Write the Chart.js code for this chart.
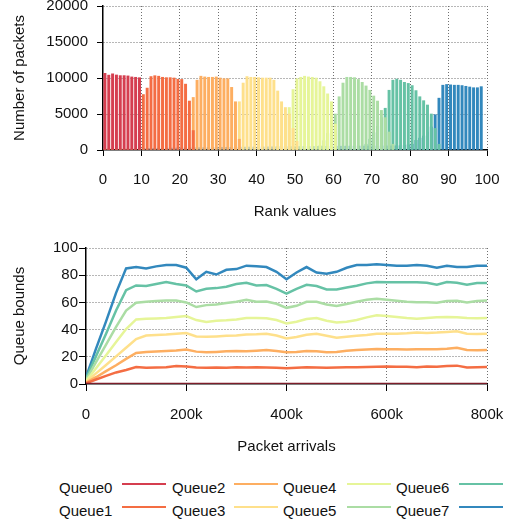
<!DOCTYPE html>
<html>
<head>
<meta charset="utf-8">
<script src="https://cdn.jsdelivr.net/npm/chart.js@4.4.1/dist/chart.umd.min.js"></script>
<style>
  html, body { margin: 0; padding: 0; background: #fff; }
  body { width: 511px; height: 519px; position: relative; overflow: hidden; font-family: "Liberation Sans", Arial, sans-serif; }
  canvas { position: absolute; left: 0; }
  #bars { top: 0; }
  #bounds { top: 230px; }
  .lbl { position: absolute; font-size: 15px; line-height: 15px; color: #111; white-space: nowrap; }
  .swatch { position: absolute; width: 44px; height: 2px; }
</style>
</head>
<body>
<canvas id="bars" width="511" height="230"></canvas>
<canvas id="bounds" width="511" height="230"></canvas>
<div id="legend"></div>
<script>
// queues
const queueNames = ['Queue0', 'Queue1', 'Queue2', 'Queue3', 'Queue4', 'Queue5', 'Queue6', 'Queue7'];
const queueColors = ['#d53e4f', '#f46d43', '#fdae61', '#fee08b', '#e6f598', '#abdda4', '#66c2a5', '#3288bd'];

// packets per rank value, each queue listed from its first rank
const q0Start = 0;
const q0Packets = [10650, 10400, 10580, 10420, 10330, 10330, 10290, 10150, 10100, 10040];
const q1Start = 10;
const q1Packets = [7700, 8600, 10200, 10320, 10250, 10100, 10050, 10050, 10000, 9820, 9800, 9150, 6800, 2700];
const q2Start = 0;
const q2Packets = [150, 170, 160, 150, 180, 160, 150, 170, 160, 150,
  0, 0, 0, 0, 0, 0, 0, 0, 0, 0, 0, 0, 0,
  7300, 9700, 10250, 10150, 10100, 10100, 10150, 10000, 9900, 9900, 8700, 6700, 1500];
const q3Start = 34;
const q3Packets = [3400, 6700, 9300, 10200, 10100, 10100, 10050, 10000, 10000, 10000, 9700, 8200, 6700, 5900, 5000, 3000, 1200];
const q4Start = 45;
const q4Packets = [500, 2000, 4900, 5900, 8400, 9900, 10100, 10250, 10150, 10100, 10000, 9500, 8800, 7800, 6700, 3600];
const q5Start = 56;
const q5Packets = [600, 1300, 2300, 3500, 5000, 7400, 9300, 10100, 10100, 10050, 9800, 9400, 8900, 8300, 7500, 6800, 5500, 4500, 2500, 800];
const q6Start = 68;
const q6Packets = [800, 1500, 2400, 3300, 4500, 5800, 8300, 9700, 9850, 9700, 9400, 9250, 8950, 8250, 7400, 6850, 6250, 5000, 3000, 800];
const q7Start = 0;
const q7Packets = [0, 0, 0, 0, 0, 0, 0, 0, 0, 0,
  200, 220, 230, 240, 250, 250, 260, 270, 270, 280,
  290, 300, 300, 310, 320, 330, 330, 340, 350, 350,
  360, 370, 380, 380, 390, 400, 400, 410, 410, 420,
  420, 430, 430, 440, 440, 450, 450, 460, 460, 470,
  470, 480, 480, 490, 490, 500, 500, 510, 510, 520,
  520, 530, 530, 540, 540, 540, 550, 550, 550, 560,
  560, 560, 570, 570, 570, 580, 590, 600, 650, 720,
  800, 1350, 1650, 1950, 2500, 3200, 4900, 7200, 9000, 9100,
  9050, 9000, 9000, 8950, 8850, 8750, 8650, 8650, 8800];

// queue bounds over packet arrivals
const arrivals = [0, 20000, 40000, 60000, 80000, 100000, 120000, 140000, 160000, 180000,
  200000, 220000, 240000, 260000, 280000, 300000, 320000, 340000, 360000, 380000,
  400000, 420000, 440000, 460000, 480000, 500000, 520000, 540000, 560000, 580000,
  600000, 620000, 640000, 660000, 680000, 700000, 720000, 740000, 760000, 780000, 800000];
const q0Bound = [0, 0, 0, 0, 0, 0, 0, 0, 0, 0, 0, 0, 0, 0, 0, 0, 0, 0, 0, 0, 0,
  0, 0, 0, 0, 0, 0, 0, 0, 0, 0, 0, 0, 0, 0, 0, 0, 0, 0, 0, 0];
const q1Bound = [0.5, 3.3, 6, 8.5, 10.3, 12.5, 12, 12.2, 12.4, 13.2, 12.8, 12.1, 12, 12.2, 12, 12.3, 12.1, 12.4, 12.2, 12,
  11.5, 12, 12.3, 12.1, 11.9, 12.2, 12.4, 12.3, 12.5, 12.7, 12.8, 12.6, 12.6, 12.4, 12.8, 12.7, 13.2, 13.5, 12.2, 12.4, 12.5];
const q2Bound = [1, 5, 9.5, 13.8, 18.5, 22.8, 23.6, 23.9, 24.2, 24.6, 25.3, 23.8, 23.3, 23.6, 24, 24.2, 24, 24.5, 25, 24.2,
  23.3, 23.6, 24.3, 24, 23.3, 23.5, 24.5, 25, 25.3, 25.7, 25.5, 25.5, 25.3, 25.5, 25.6, 25.6, 26, 26.7, 25, 24.8, 25];
const q3Bound = [1.5, 7.8, 14, 20.3, 26.6, 33, 35.6, 36, 36.4, 37, 37.5, 35, 34.7, 35, 35.4, 35.6, 36.4, 36.5, 37, 35.6,
  33.5, 34.5, 36.2, 37, 35.5, 34, 34.8, 35.4, 36, 37, 37, 37, 37.3, 37.9, 37.5, 37.8, 38.3, 38.8, 37, 36.8, 37];
const q4Bound = [2, 11.6, 21.2, 30.8, 40.4, 47.5, 48, 48.2, 48.5, 49.2, 50, 47, 45.6, 46.5, 46.8, 47.5, 48.5, 48.5, 48.3, 47,
  44.5, 45.8, 47.8, 48.5, 46.5, 45.2, 45.8, 47, 49, 50.5, 50, 49.3, 48.5, 48, 48.5, 49, 49.3, 49, 48.5, 48.3, 48.5];
const q5Bound = [3, 16, 29, 42, 54, 59.7, 60.5, 61, 61.4, 61.4, 60, 56.6, 58, 58.5, 59.5, 60.5, 62, 60.5, 60.7, 59,
  56, 57.5, 60.5, 60.5, 58.5, 57.3, 58.8, 60.5, 62, 62.6, 62, 61.2, 60.5, 60.2, 60.2, 59.8, 61, 61.2, 60, 61, 61.4];
const q6Bound = [4, 20.5, 37, 54, 69, 72.5, 72, 73.5, 75, 73.5, 72.5, 68, 70, 70.5, 71.5, 73.5, 74.5, 72.5, 72.8, 70,
  66.5, 70, 73, 72, 69.5, 69.5, 71, 72.3, 74, 75, 74.8, 74.8, 74.8, 74.8, 74.5, 73, 75, 74.5, 73, 74.3, 74.3];
const q7Bound = [5, 26, 46, 67, 85, 86, 85, 86.5, 87.5, 87.5, 85.5, 77, 82.5, 80.5, 84, 84.5, 87, 86.5, 86, 82.5,
  77, 82, 86, 82, 81, 82.5, 85.5, 87.5, 87.5, 88, 87.5, 87, 87, 87.5, 87, 85.5, 87, 86, 86, 87, 87];

const packetStarts = [q0Start, q1Start, q2Start, q3Start, q4Start, q5Start, q6Start, q7Start];
const packetCounts = [q0Packets, q1Packets, q2Packets, q3Packets, q4Packets, q5Packets, q6Packets, q7Packets];
const bounds = [q0Bound, q1Bound, q2Bound, q3Bound, q4Bound, q5Bound, q6Bound, q7Bound];

const font = { family: '"Liberation Sans", Arial, sans-serif', size: 15 };
const ink = '#111';
const gridColor = ctx => (ctx.tick && ctx.tick.value === 0) ? 'rgba(0,0,0,0)' : '#6f6f6f';

function axis(extra) {
  return Object.assign({
    border: { color: '#000', width: 1.5, dash: [1, 2] },
  }, extra);
}

new Chart(document.getElementById('bars'), {
  type: 'bar',
  data: {
    datasets: queueNames.map((name, i) => ({
      label: name,
      data: packetCounts[i].map((c, k) => ({ x: packetStarts[i] + k + 0.5, y: c })),
      backgroundColor: queueColors[i],
      borderWidth: 0,
      grouped: false,
      barThickness: 2.3
    }))
  },
  options: {
    responsive: false,
    animation: false,
    layout: { padding: { top: 6, right: 24, left: 0, bottom: 0 } },
    plugins: { legend: { display: false }, tooltip: { enabled: false } },
    scales: {
      x: axis({
        type: 'linear', min: 0, max: 100, offset: false,
        grid: { color: gridColor, tickColor: '#000', lineWidth: 1, offset: false, tickLength: 6 },
        ticks: { stepSize: 10, padding: 15, color: ink, font: font, maxRotation: 0 },
        title: { display: true, text: 'Rank values', color: ink, font: font, padding: { top: 0, bottom: 9 } },
        afterFit: s => { s.height = 80; s.paddingLeft = 0; s.paddingRight = 0; }
      }),
      y: axis({
        min: 0, max: 20000,
        grid: { color: gridColor, tickColor: '#000', lineWidth: 1, tickLength: 6 },
        ticks: { stepSize: 5000, padding: 9, color: ink, font: font, callback: v => String(v) },
        title: { display: true, text: 'Number of packets', color: ink, font: font, padding: { top: 10.5, bottom: 0 } },
        afterFit: s => { s.width = 103; s.paddingTop = 0; s.paddingBottom = 0; }
      })
    }
  }
});

new Chart(document.getElementById('bounds'), {
  type: 'line',
  data: {
    datasets: queueNames.map((name, i) => ({
      label: name,
      data: bounds[i].map((b, k) => ({ x: arrivals[k], y: b })),
      borderColor: i === 0 ? '#7d1d2a' : queueColors[i],
      borderWidth: 2.5,
      pointRadius: 0,
      tension: 0,
      fill: false
    }))
  },
  options: {
    responsive: false,
    animation: false,
    layout: { padding: { top: 18, right: 24, left: 0, bottom: 0 } },
    plugins: { legend: { display: false }, tooltip: { enabled: false } },
    scales: {
      x: axis({
        type: 'linear', min: 0, max: 800000,
        grid: { color: gridColor, tickColor: '#000', lineWidth: 1, tickLength: 7 },
        ticks: { stepSize: 200000, padding: 15, color: ink, font: font, maxRotation: 0,
                 callback: v => v === 0 ? '0' : (v / 1000) + 'k' },
        title: { display: true, text: 'Packet arrivals', color: ink, font: font, padding: { top: 0, bottom: 4.5 } },
        afterFit: s => { s.height = 76; s.paddingLeft = 0; s.paddingRight = 0; }
      }),
      y: axis({
        min: 0, max: 100,
        grid: { color: gridColor, tickColor: '#000', lineWidth: 1, tickLength: 7 },
        ticks: { stepSize: 20, padding: 1, color: ink, font: font },
        title: { display: true, text: 'Queue bounds', color: ink, font: font, padding: { top: 10.5, bottom: 0 } },
        afterFit: s => { s.width = 86; s.paddingTop = 0; s.paddingBottom = 0; }
      })
    }
  }
});

// legend: 4 columns x 2 rows, name then line sample
const legendTextX = [59, 172, 283, 396];
const legendLineX = [122, 234, 347, 459];
const legendEl = document.getElementById('legend');
queueNames.forEach((name, i) => {
  const col = Math.floor(i / 2), row = i % 2;
  const t = document.createElement('div');
  t.className = 'lbl';
  t.textContent = name;
  t.style.left = legendTextX[col] + 'px';
  t.style.top = (480 + row * 23) + 'px';
  legendEl.appendChild(t);
  const s = document.createElement('div');
  s.className = 'swatch';
  s.style.background = queueColors[i];
  s.style.left = legendLineX[col] + 'px';
  s.style.top = (483 + row * 23) + 'px';
  legendEl.appendChild(s);
});
</script>
</body>
</html>
